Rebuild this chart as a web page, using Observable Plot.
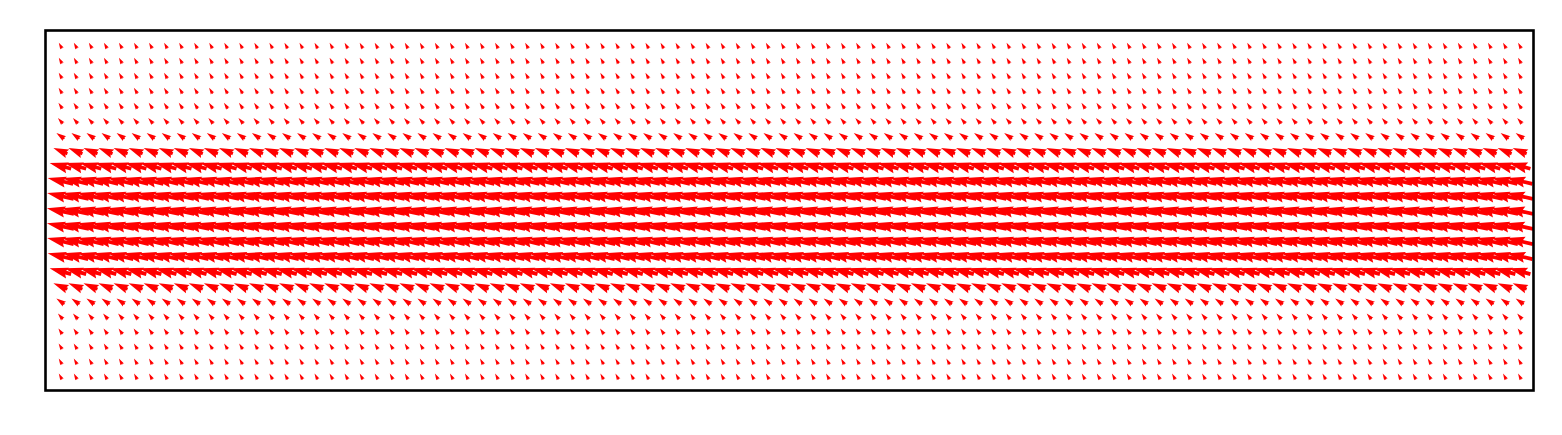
<!DOCTYPE html>
<html>
<head>
<meta charset="utf-8">
<script src="https://cdn.jsdelivr.net/npm/d3@7"></script>
<script src="https://cdn.jsdelivr.net/npm/@observablehq/plot@0.6"></script>
<style>
  html, body { margin: 0; padding: 0; background: #fff; }
  #chart svg { display: block; }
</style>
</head>
<body>
<div id="chart"></div>
<script>
// Grid: 98 columns x 23 rows (row 0 at top)
const columns = d3.range(98);
const rows = d3.range(23);
// Per-row vector components (u: horizontal, v: vertical, up positive)
const rowU = [-3.2, -3.2, -3.3, -3.5, -3.9, -4.9, -8.0, -14.0, -21.5, -25.5, -26.5, -27.0,
              -27.0, -26.5, -25.5, -21.5, -14.0, -8.0, -4.9, -3.9, -3.5, -3.3, -3.2];
const rowV = [5.8, 5.8, 5.8, 5.7, 5.7, 5.7, 5.8, 5.8, 5.8, 5.9, 6.0, 5.8,
              5.8, 6.0, 5.9, 5.8, 5.8, 5.8, 5.7, 5.7, 5.7, 5.8, 5.8];

const data = [];
for (const r of rows) {
  for (const c of columns) {
    const u = rowU[r], v = rowV[r];
    data.push({col: c, row: r, u, v, len: Math.hypot(u, v), angle: Math.atan2(u, v) * 180 / Math.PI});
  }
}

// matplotlib-style quiver arrow polygon
const W = 3.7; // shaft width in px
const quiverShape = {
  draw(context, l) {
    const Lw = l / W;
    let pts;
    if (Lw < 5) {
      const s = Lw / 5;
      pts = [[0, .5], [.5, .5], [0, 1.5], [5, 0], [0, -1.5], [.5, -.5], [0, -.5]].map(([a, p]) => [a * s, p * s]);
    } else {
      pts = [[0, .5], [Lw - 4.5, .5], [Lw - 5, 1.5], [Lw, 0], [Lw - 5, -1.5], [Lw - 4.5, -.5], [0, -.5]];
    }
    pts.forEach(([a, p], i) => {
      const x = p * W, y = -a * W;
      if (i === 0) context.moveTo(x, y); else context.lineTo(x, y);
    });
    context.closePath();
  }
};

const chart = Plot.plot({
  width: 1562,
  height: 435,
  marginLeft: 45,
  marginRight: 29,
  marginTop: 30,
  marginBottom: 45,
  style: {background: "#fff"},
  x: {domain: [-0.99, 97.92], axis: null},
  y: {domain: [22.93, -1.0], axis: null},
  length: {domain: [0, 30], range: [0, 30]},
  marks: [
    Plot.vector(data, {
      x: "col",
      y: "row",
      length: "len",
      rotate: "angle",
      anchor: "middle",
      shape: quiverShape,
      fill: "#ff0000",
      stroke: "none",
      clip: true
    }),
    Plot.frame({stroke: "black", strokeWidth: 2.6})
  ]
});
document.getElementById("chart").appendChild(chart);
</script>
</body>
</html>
